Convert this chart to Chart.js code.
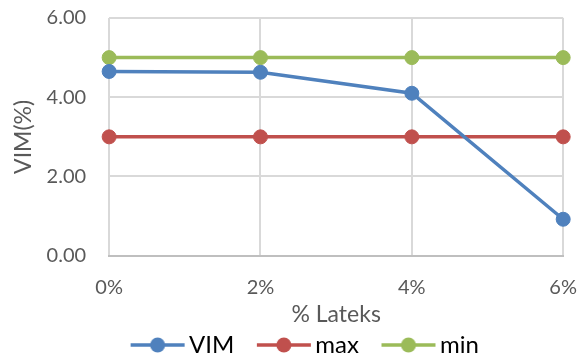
<!DOCTYPE html>
<html>
<head>
<meta charset="utf-8">
<script src="https://cdn.jsdelivr.net/npm/chart.js@4"></script>
<style>
  html, body { margin: 0; padding: 0; background: #fff; }
  #wrap { width: 579px; height: 356px; }
</style>
</head>
<body>
<div id="wrap"><canvas id="c" width="579" height="356"></canvas></div>
<script>
const categories = ['0%', '2%', '4%', '6%'];
const vimValues = [4.65, 4.63, 4.10, 0.92];
const maxValues = [3.00, 3.00, 3.00, 3.00];
const minValues = [5.00, 5.00, 5.00, 5.00];
const yTicks = [0, 2, 4, 6];

const BLUE = '#4F81BD', RED = '#C0504D', GREEN = '#9BBB59';
const FONT = 'Lato, "Open Sans", sans-serif';
const CLEAR = 'rgba(0,0,0,0)';

// Legend marker: a short line with a dot in the middle, placed toward the right
// of an 80px-wide image so it sits just before the label text
function legendMarker(color) {
  const cv = document.createElement('canvas');
  cv.width = 80; cv.height = 18;
  const g = cv.getContext('2d');
  g.strokeStyle = color; g.lineWidth = 3.5;
  g.beginPath(); g.moveTo(25, 9); g.lineTo(79, 9); g.stroke();
  g.fillStyle = color;
  g.beginPath(); g.arc(52, 9, 7.5, 0, Math.PI * 2); g.fill();
  return cv;
}

function series(label, data, color) {
  return {
    label, data,
    borderColor: color, backgroundColor: color,
    borderWidth: 3.5,
    pointRadius: 7, pointHoverRadius: 7, pointBorderWidth: 1,
    pointBackgroundColor: color, pointBorderColor: color,
    pointStyle: 'circle',
    tension: 0
  };
}

const markers = [legendMarker(BLUE), legendMarker(RED), legendMarker(GREEN)];

new Chart(document.getElementById('c'), {
  type: 'line',
  data: {
    labels: categories,
    datasets: [
      series('VIM', vimValues, BLUE),
      series('max', maxValues, RED),
      series('min', minValues, GREEN)
    ]
  },
  options: {
    responsive: false,
    animation: false,
    layout: { padding: { left: 10, right: -4, top: 18, bottom: -11 } },
    scales: {
      x: {
        offset: false,
        // invisible tick marks give the gap between axis and labels
        grid: { color: '#d9d9d9', lineWidth: 2, drawTicks: true, tickLength: 18, tickColor: CLEAR },
        border: { color: '#bfbfbf', width: 2 },
        ticks: { color: '#595959', font: { family: FONT, size: 20, lineHeight: 1.2 }, padding: 2, maxRotation: 0 },
        title: { display: true, text: '% Lateks', color: '#595959', font: { family: FONT, size: 23, lineHeight: 1.1 }, padding: { top: 0, bottom: 0 } }
      },
      y: {
        min: 0, max: 6,
        afterBuildTicks: axis => { axis.ticks = yTicks.map(v => ({ value: v })); },
        grid: { color: '#d9d9d9', lineWidth: 2, drawTicks: true, tickLength: 23, tickColor: CLEAR },
        border: { display: false },
        ticks: { color: '#595959', font: { family: FONT, size: 20 }, padding: 0, callback: v => v.toFixed(2) },
        title: { display: true, text: 'VIM(%)', color: '#595959', font: { family: FONT, size: 23, lineHeight: 1.2 }, padding: { top: 0, bottom: 9 } }
      }
    },
    plugins: {
      tooltip: { enabled: false },
      legend: {
        position: 'bottom',
        labels: {
          usePointStyle: true,
          pointStyleWidth: 63,
          boxHeight: 18,
          padding: 6,
          color: '#000',
          font: { family: FONT, size: 24, lineHeight: 1 },
          generateLabels: chart => chart.data.datasets.map((ds, i) => ({
            text: ds.label,
            pointStyle: markers[i],
            fillStyle: ds.borderColor,
            strokeStyle: ds.borderColor,
            fontColor: '#000',
            lineWidth: 0,
            hidden: false,
            datasetIndex: i
          }))
        }
      }
    }
  }
});
</script>
</body>
</html>
